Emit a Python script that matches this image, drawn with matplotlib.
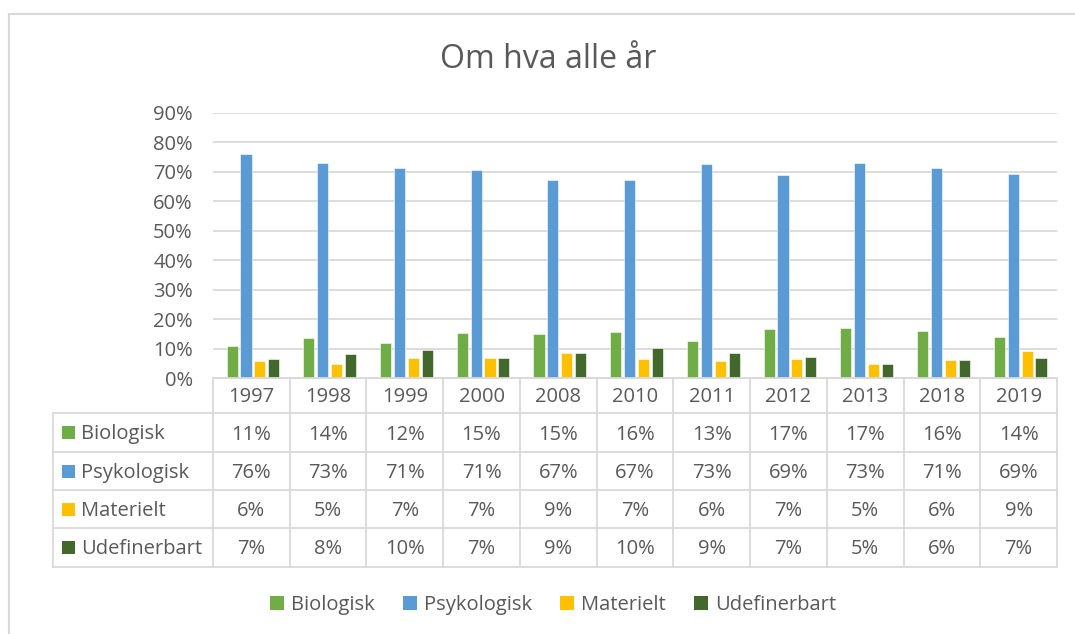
import matplotlib
matplotlib.use("Agg")
import matplotlib.pyplot as plt
from matplotlib.patches import Rectangle
from matplotlib.lines import Line2D
import numpy as np

years = ["1997", "1998", "1999", "2000", "2008", "2010", "2011", "2012", "2013", "2018", "2019"]
series_names = ["Biologisk", "Psykologisk", "Materielt", "Udefinerbart"]
biologisk = [0.110, 0.136, 0.118, 0.153, 0.150, 0.156, 0.126, 0.168, 0.171, 0.159, 0.138]
psykologisk = [0.762, 0.731, 0.713, 0.706, 0.672, 0.672, 0.726, 0.689, 0.729, 0.712, 0.693]
materielt = [0.057, 0.048, 0.067, 0.067, 0.086, 0.066, 0.058, 0.066, 0.047, 0.060, 0.092]
udefinerbart = [0.066, 0.080, 0.095, 0.069, 0.086, 0.103, 0.086, 0.073, 0.048, 0.062, 0.068]
yticks = [0, 0.1, 0.2, 0.3, 0.4, 0.5, 0.6, 0.7, 0.8, 0.9]

colors = ["#70AD47", "#5B9BD5", "#FFC000", "#43682B"]
text_col = "#595959"
grid_col = "#D9D9D9"
FONT = "Open Sans"
plt.rcParams["font.family"] = [FONT, "DejaVu Sans"]
FS = 14.5

W, H = 1075, 634
fig = plt.figure(figsize=(W / 100, H / 100), dpi=100)

def fx(px):
    return px / W

def fy(py):
    return 1 - py / H

# plot area in pixels
L, R, T, B = 213, 1057, 113, 378
ax = fig.add_axes([fx(L), fy(B), fx(R - L), (B - T) / H])
data = [biologisk, psykologisk, materielt, udefinerbart]
x = np.arange(len(years))
bw = 0.145
step = 0.181
for i, (vals, c) in enumerate(zip(data, colors)):
    ax.bar(x + (i - 1.5) * step + 0.02, vals, width=bw, color=c,
           edgecolor="white", linewidth=0.4, zorder=3)
ax.set_xlim(-0.5, len(years) - 0.5)
ax.set_ylim(0, 0.9)
ax.set_yticks(yticks)
ax.set_yticklabels([f"{v:.0%}" for v in yticks], fontsize=FS, color=text_col)
ax.tick_params(axis="y", length=0, pad=14.5)
ax.set_xticks([])
for s in ["top", "right", "left"]:
    ax.spines[s].set_visible(False)
ax.spines["bottom"].set_color(grid_col)
ax.spines["bottom"].set_linewidth(1.3)
ax.yaxis.grid(True, color=grid_col, linewidth=1.3, zorder=0)
ax.set_axisbelow(True)

# Title
fig.text(fx(548), fy(59), "Om hva alle år", ha="center", va="center",
         fontsize=23, color=text_col)

# Outer border (extends past right/bottom)
fig.add_artist(Line2D([fx(9), fx(9)], [fy(14), 0], color=grid_col, lw=1.5))
fig.add_artist(Line2D([fx(9), 1], [fy(14), fy(14)], color=grid_col, lw=1.5))

# Data table
col_w = (R - L) / len(years)
row_lines = [378, 413, 452, 490, 528, 567]
tbl_left = 53
lc = grid_col
lw = 1.3
fig.add_artist(Line2D([fx(L), fx(R)], [fy(row_lines[0])] * 2, color=lc, lw=lw))
for yy in row_lines[1:]:
    fig.add_artist(Line2D([fx(tbl_left), fx(R)], [fy(yy)] * 2, color=lc, lw=lw))
for j in range(len(years) + 1):
    xx = L + j * col_w
    fig.add_artist(Line2D([fx(xx)] * 2, [fy(row_lines[0]), fy(row_lines[-1])], color=lc, lw=lw))
fig.add_artist(Line2D([fx(tbl_left)] * 2, [fy(row_lines[1]), fy(row_lines[-1])], color=lc, lw=lw))

DY = 2
for j, yr in enumerate(years):
    fig.text(fx(L + (j + 0.5) * col_w), fy((row_lines[0] + row_lines[1]) / 2 + DY), yr,
             ha="center", va="center", fontsize=FS, color=text_col)
for i, (name, vals, c) in enumerate(zip(series_names, data, colors)):
    yc = (row_lines[i + 1] + row_lines[i + 2]) / 2
    fig.add_artist(Rectangle((fx(62), fy(yc + 6.5)), 13 / W, 13 / H,
                             facecolor=c, edgecolor="none", transform=fig.transFigure))
    fig.text(fx(81), fy(yc + DY), name, ha="left", va="center", fontsize=FS, color=text_col)
    for j, v in enumerate(vals):
        fig.text(fx(L + (j + 0.5) * col_w), fy(yc + DY), f"{v:.0%}",
                 ha="center", va="center", fontsize=FS, color=text_col)

handles = [Rectangle((0, 0), 1, 1, facecolor=c, edgecolor="none") for c in colors]
fig.legend(handles, series_names, loc="center", bbox_to_anchor=(fx(553), fy(605)),
           ncol=4, frameon=False, fontsize=FS, handlelength=0.7, handleheight=0.7,
           handletextpad=0.35, columnspacing=1.4, labelcolor=text_col)

fig.savefig("out.png", dpi=100)
